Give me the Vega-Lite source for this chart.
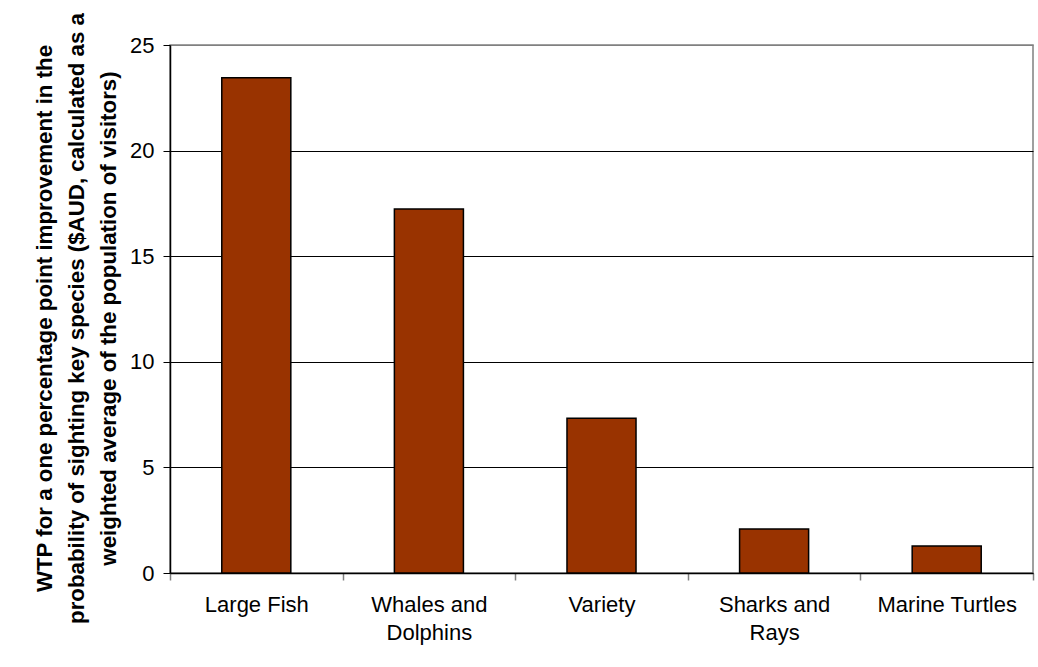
{
  "$schema": "https://vega.github.io/schema/vega-lite/v6.json",
  "width": 863,
  "height": 528,
  "autosize": {"type": "none"},
  "padding": {"left": 170, "top": 45, "right": 5, "bottom": 94},
  "background": "white",
  "data": {
    "values": [
      {"species": "Large Fish", "wtp": 23.45},
      {"species": "Whales and Dolphins", "wtp": 17.23},
      {"species": "Variety", "wtp": 7.33},
      {"species": "Sharks and Rays", "wtp": 2.08},
      {"species": "Marine Turtles", "wtp": 1.28}
    ]
  },
  "mark": {"type": "bar", "color": "#993300", "stroke": "#000000", "strokeWidth": 1.5, "width": {"band": 0.4}},
  "encoding": {
    "x": {
      "field": "species",
      "type": "nominal",
      "sort": null,
      "scale": {"paddingInner": 0, "paddingOuter": 0},
      "axis": {
        "title": null,
        "labelAngle": 0,
        "labelExpr": "datum.value == 'Whales and Dolphins' ? ['Whales and', 'Dolphins'] : datum.value == 'Sharks and Rays' ? ['Sharks and', 'Rays'] : datum.value",
        "labelFont": "Liberation Sans",
        "labelFontSize": 22,
        "labelColor": "#000000",
        "labelLineHeight": 28,
        "labelPadding": 14,
        "labelLimit": 400,
        "labelOverlap": false,
        "labelBaseline": "top",
        "tickBand": "extent",
        "tickColor": "#808080",
        "tickSize": 7,
        "tickWidth": 1.5,
        "domainColor": "#000000",
        "domainWidth": 1.5
      }
    },
    "y": {
      "field": "wtp",
      "type": "quantitative",
      "scale": {"domain": [0, 25], "nice": false},
      "axis": {
        "values": [0, 5, 10, 15, 20, 25],
        "grid": true,
        "gridColor": {"condition": {"test": "datum.value == 25", "value": "#808080"}, "value": "#000000"},
        "gridWidth": 1,
        "labelFont": "Liberation Sans",
        "labelFontSize": 22,
        "labelColor": "#000000",
        "labelPadding": 9,
        "tickColor": "#000000",
        "tickSize": 7,
        "domainColor": "#000000",
        "domainWidth": 1.5,
        "title": [
          "WTP for a one percentage point improvement in the",
          "probability of sighting key species ($AUD, calculated as a",
          "weighted average of the population of visitors)"
        ],
        "titleFont": "Liberation Sans",
        "titleFontWeight": "bold",
        "titleFontSize": 22.3,
        "titleLineHeight": 32,
        "titleColor": "#000000",
        "titlePadding": 9,
        "titleY": 273
      }
    }
  },
  "config": {
    "view": {"stroke": "#808080", "strokeWidth": 1.5}
  }
}
